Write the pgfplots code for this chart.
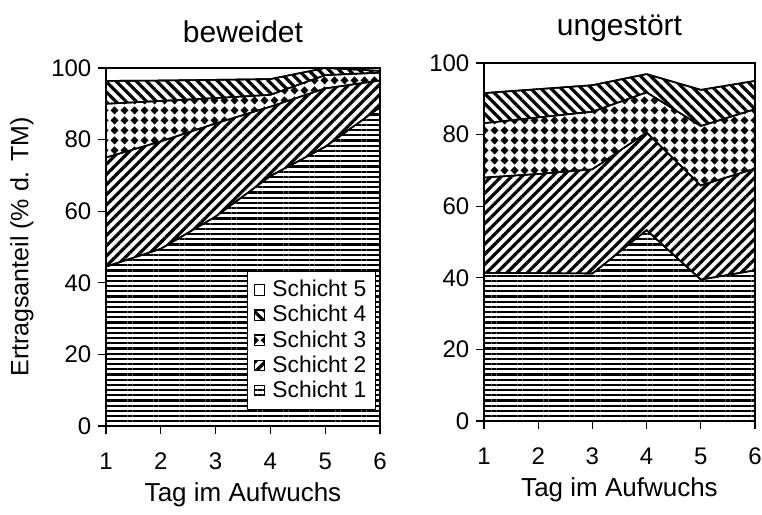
\documentclass[border=0pt]{standalone}
\usepackage{fontspec}
\setmainfont{Liberation Sans}
\usepackage{pgfplots}
\pgfplotsset{compat=1.18}
\usetikzlibrary{patterns,patterns.meta}

% Rautenmuster fuer Schicht 3
\pgfdeclarepatternformonly{rauten}{\pgfqpoint{0pt}{0pt}}{\pgfqpoint{5pt}{5pt}}{\pgfqpoint{5pt}{5pt}}{%
  \pgfpathmoveto{\pgfqpoint{2.5pt}{0.3pt}}%
  \pgfpathlineto{\pgfqpoint{4.7pt}{2.5pt}}%
  \pgfpathlineto{\pgfqpoint{2.5pt}{4.7pt}}%
  \pgfpathlineto{\pgfqpoint{0.3pt}{2.5pt}}%
  \pgfpathclose
  \pgfusepath{fill}}

\newcommand\legfont{\fontsize{11.4}{13}\selectfont}

\pgfplotsset{
  schicht1/.style={draw=black, line width=0.8pt, pattern={Lines[angle=0,distance=2.6pt,line width=1.1pt]}},
  schicht2/.style={draw=black, line width=0.8pt, pattern={Lines[angle=45,distance=3.6pt,line width=1.6pt]}},
  schicht3/.style={draw=black, line width=0.8pt, pattern=rauten},
  schicht4/.style={draw=black, line width=0.8pt, pattern={Lines[angle=-45,distance=3.6pt,line width=1.6pt]}},
  schicht5/.style={draw=black, line width=0.8pt, fill=white},
  panel/.style={
    scale only axis, height=179pt,
    xmin=1, xmax=6, ymin=0, ymax=100,
    xtick={1,...,6}, ytick={0,20,...,100},
    axis lines=left, axis line style={-, line width=0.6pt},
    tick align=outside, major tick length=3.8pt,
    tick style={black, line width=0.6pt},
    stack plots=y, clip=false,
    tick label style={font=\fontsize{12}{14}\selectfont},
    /pgf/number format/assume math mode=true,
    xticklabel style={yshift=-6pt},
    xlabel={Tag im Aufwuchs},
    x label style={at={(axis description cs:0.5,-0.1927)}, anchor=center, font=\fontsize{13}{15}\selectfont},
    title style={anchor=center, font=\fontsize{15}{18}\selectfont},
    legend image code/.code={%
      \draw[#1, line width=0.6pt] (1pt,-2.6pt) rectangle (6.2pt,2.6pt);
      \path[draw=none, fill=none] (0pt,-0.1pt) rectangle (8pt,0.1pt);},
  },
}

\begin{document}
\begin{tikzpicture}
\useasboundingbox (-53pt,-44.5pt) rectangle (328pt,213pt);

\begin{axis}[panel, width=137pt, at={(0pt,0pt)}, anchor=south west,
  title={beweidet}, title style={at={(axis description cs:0.5,1.067)}},
  ylabel={Ertragsanteil (\% d. TM)},
  y label style={at={(axis description cs:-0.307,0.5)}, anchor=center, font=\fontsize{12.5}{15}\selectfont},
  reverse legend,
  legend style={at={(0.985,0.045)}, anchor=south east, draw=black, line width=0.6pt,
    fill=white, font=\legfont, row sep=-1.2pt, inner sep=2.5pt},
  legend cell align=left,
]
  \addplot[schicht1] coordinates {(1,44.5) (2,49.5) (3,58.5) (4,69.8) (5,78) (6,89)} \closedcycle;
  \addlegendentry{Schicht 1}
  \addplot[schicht2] coordinates {(1,30.5) (2,30) (3,26) (4,19.4) (5,16.3) (6,7.5)} \closedcycle;
  \addlegendentry{Schicht 2}
  \addplot[schicht3] coordinates {(1,15) (2,11.3) (3,7.1) (4,3.3) (5,3.7) (6,2.2)} \closedcycle;
  \addlegendentry{Schicht 3}
  \addplot[schicht4] coordinates {(1,6.4) (2,5.7) (3,5.1) (4,4.4) (5,2) (6,0.5)} \closedcycle;
  \addlegendentry{Schicht 4}
  \addplot[schicht5] coordinates {(1,3.6) (2,3.5) (3,3.3) (4,3.1) (5,0) (6,0.8)} \closedcycle;
  \addlegendentry{Schicht 5}
\end{axis}

\begin{axis}[panel, width=135.5pt, at={(189pt,2.5pt)}, anchor=south west,
  title={ungestört}, title style={at={(axis description cs:0.5,1.064)}},
]
  \addplot[schicht1] coordinates {(1,41.4) (2,41.3) (3,41.2) (4,53.3) (5,39.5) (6,42.1)} \closedcycle;
  \addplot[schicht2] coordinates {(1,26.6) (2,27.7) (3,29.1) (4,27.3) (5,26.3) (6,28.4)} \closedcycle;
  \addplot[schicht3] coordinates {(1,15.2) (2,15.8) (3,16.1) (4,11.2) (5,16.6) (6,16.6)} \closedcycle;
  \addplot[schicht4] coordinates {(1,8.4) (2,7.9) (3,7.4) (4,5.1) (5,10.1) (6,7.9)} \closedcycle;
  \addplot[schicht5] coordinates {(1,8.4) (2,7.3) (3,6.2) (4,3.1) (5,7.5) (6,5)} \closedcycle;
\end{axis}
\end{tikzpicture}
\end{document}
